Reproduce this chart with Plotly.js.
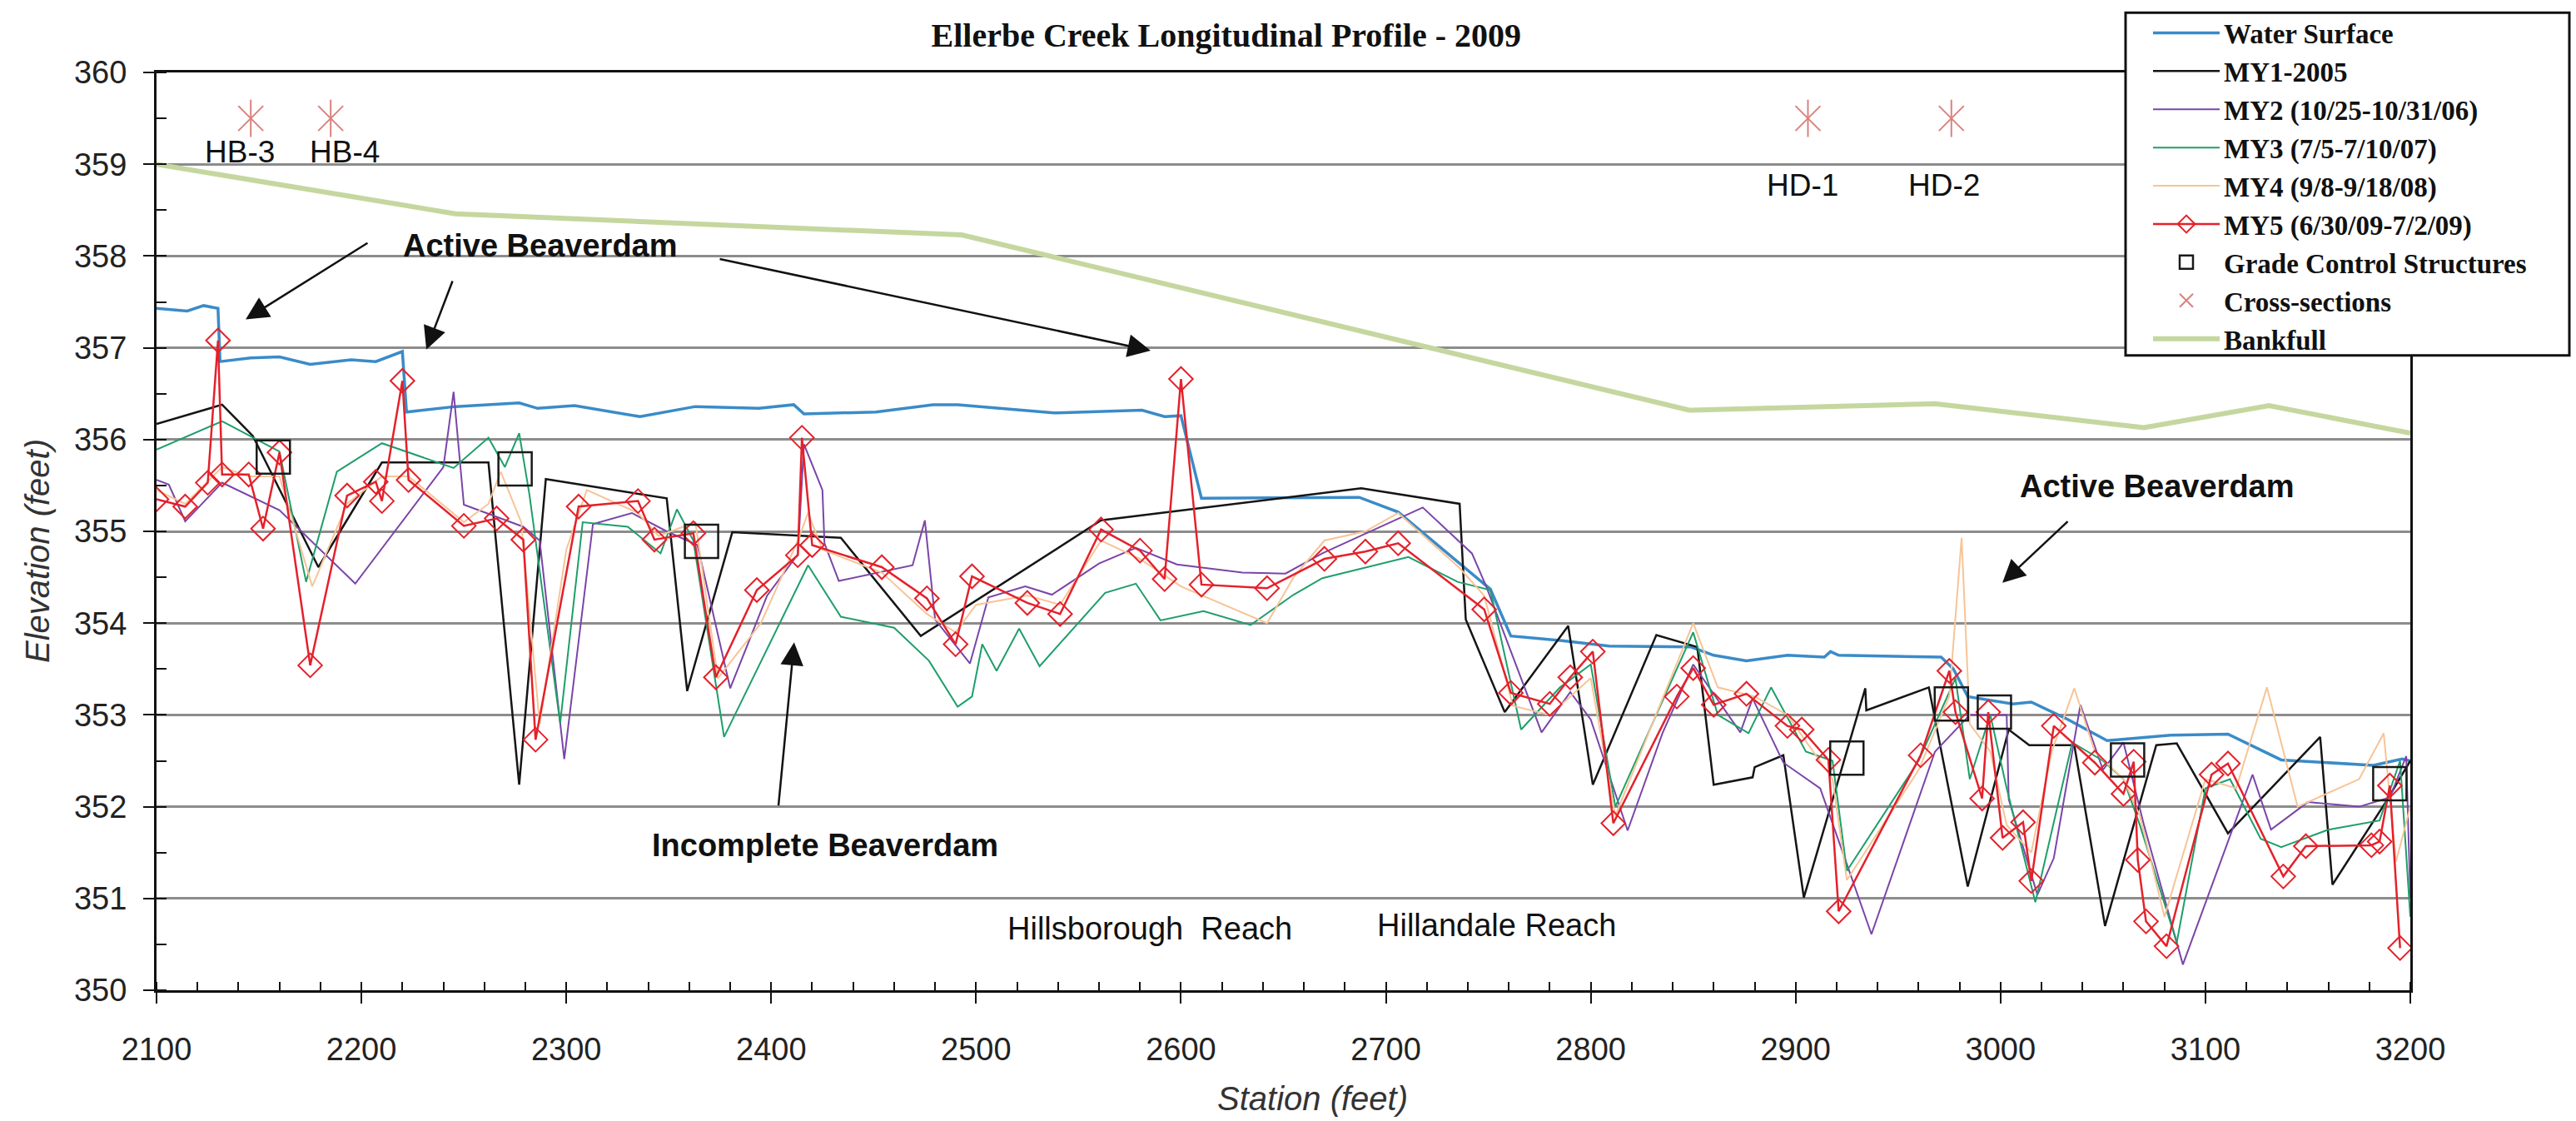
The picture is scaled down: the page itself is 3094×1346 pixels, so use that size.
<!DOCTYPE html>
<html>
<head>
<meta charset="utf-8">
<script src="https://cdn.plot.ly/plotly-3.0.1.min.js"></script>
<style>html,body{margin:0;padding:0;background:#fff;}#chart{width:3094px;height:1346px;}</style>
</head>
<body>
<div id="chart"></div>
<script>
// ---------- DATA ----------
const wsX = [2100,2115,2123,2130,2131,2146,2160,2175,2195,2207,2220,2222,2246,2277,2286,2304,2336,2363,2394,2411,2416,2451,2479,2491,2538,2581,2592,2600,2610,2687,2706,2751,2761,2786,2809,2849,2860,2876,2896,2914,2917,2921,2971,2977,2984,3006,3015,3032,3052,3066,3083,3111,3137,3182,3196,3200];
const wsY = [357.43,357.40,357.46,357.43,356.85,356.89,356.90,356.82,356.87,356.85,356.96,356.30,356.36,356.40,356.34,356.37,356.25,356.36,356.34,356.38,356.28,356.30,356.38,356.38,356.29,356.32,356.25,356.26,355.36,355.37,355.21,354.37,353.86,353.81,353.75,353.74,353.65,353.59,353.65,353.63,353.69,353.65,353.63,353.50,353.20,353.12,353.14,352.96,352.72,352.75,352.78,352.79,352.51,352.45,352.52,352.50];

const my1X = [2100,2132,2147,2179,2210,2262,2277,2290,2349,2359,2381,2434,2473,2561,2688,2736,2739,2758,2789,2801,2832,2852,2860,2879,2880,2894,2904,2934,2934.5,2965,2984,3004,3014,3036,3051,3076,3086,3111,3156,3162,3188,3200];
const my1Y = [356.17,356.38,356.04,354.61,355.75,355.75,352.24,355.57,355.36,353.26,354.99,354.93,353.86,355.12,355.47,355.30,354.04,353.03,353.97,352.24,353.87,353.74,352.24,352.32,352.43,352.56,351.01,353.29,353.05,353.30,351.13,352.84,352.67,352.67,350.70,352.67,352.69,351.71,352.76,351.15,352.05,352.50];

const my2X = [2100,2106,2114,2132,2160,2197,2240,2245,2250,2279,2287,2299,2313,2332,2349,2364,2380,2398,2413,2416,2425,2426,2433,2469,2475,2480,2497,2506,2524,2537,2560,2578,2598,2630,2651,2669,2718,2742,2749,2776,2790,2800,2818,2835,2850,2873,2879,2894,2912,2937,2968,2985,3003,3004,3018,3026,3039,3050,3060,3070,3089,3123,3132,3150,3175,3190,3198,3200];
const my2Y = [355.56,355.51,355.11,355.53,355.23,354.43,355.70,356.52,355.29,355.05,354.90,352.52,355.08,355.20,355.00,354.85,353.29,354.30,354.75,355.95,355.45,354.87,354.46,354.63,355.12,354.04,353.56,354.28,354.40,354.31,354.65,354.82,354.64,354.55,354.54,354.76,355.26,354.76,354.40,352.81,353.25,352.95,351.74,352.80,353.55,352.81,353.18,352.48,352.20,350.61,352.60,353.00,353.00,352.08,351.04,351.44,353.11,352.40,352.70,351.80,350.28,352.35,351.75,352.05,352.00,352.10,352.55,351.00];

const my3X = [2100,2132,2160,2173,2188,2210,2245,2262,2270,2277,2282,2297,2308,2330,2346,2354,2362,2377,2418,2434,2460,2477,2491,2498,2503,2510,2521,2531,2563,2578,2590,2611,2634,2655,2669,2711,2735,2751,2766,2785,2800,2812,2830,2850,2862,2877,2888,2905,2918,2925,2960,2978,2985,2995,3003,3017,3035,3050,3060,3068,3086,3100,3112,3127,3137,3160,3185,3195,3200];
const my3Y = [355.89,356.20,355.87,354.45,355.65,355.96,355.69,356.02,355.70,356.07,355.40,352.91,355.10,355.05,354.76,355.24,354.90,352.76,354.63,354.07,353.95,353.59,353.09,353.20,353.77,353.48,353.94,353.53,354.33,354.43,354.03,354.13,353.98,354.31,354.49,354.72,354.45,354.36,352.84,353.30,353.55,352.00,352.90,353.90,353.00,352.80,353.30,352.60,352.50,351.30,352.50,353.40,352.30,353.00,352.20,350.96,352.70,352.50,352.30,351.80,350.52,352.20,352.30,351.65,351.56,351.75,351.85,352.50,350.80];

const my4X = [2100,2114,2132,2145,2160,2176,2193,2210,2223,2250,2262,2268,2278,2287,2300,2310,2335,2345,2363,2374,2395,2413,2418,2425,2454,2476,2490,2500,2525,2541,2561,2580,2600,2642,2655,2670,2690,2706,2736,2748,2762,2780,2800,2812,2830,2850,2862,2880,2896,2918,2925,2960,2975,2981,2985,2995,3003,3015,3025,3036,3046,3060,3068,3080,3100,3115,3130,3145,3175,3187,3193,3200];
const my4Y = [355.45,355.30,355.70,355.60,355.60,354.40,355.30,355.60,355.60,355.10,355.30,355.65,355.10,352.90,354.80,355.45,355.20,354.95,355.10,353.40,354.00,354.90,355.20,354.80,354.55,354.10,353.90,354.20,354.30,354.20,354.90,354.70,354.40,354.00,354.50,354.90,355.00,355.20,354.60,354.30,353.10,353.00,353.40,351.90,352.90,354.00,353.30,353.20,353.00,352.30,351.20,352.40,353.20,354.93,352.90,352.60,351.80,351.50,352.60,353.29,352.60,352.30,351.90,350.80,352.30,352.20,353.30,352.00,352.30,352.80,351.40,352.00];

const my5X = [2100,2114,2125,2130,2132,2145,2152,2160,2175,2193,2207,2210,2220,2223,2250,2266,2279,2285,2306,2335,2343,2362,2373,2393,2413,2415,2420,2454,2476,2490,2498,2525,2541,2561,2580,2592,2600,2610,2642,2670,2690,2706,2748,2761,2780,2790,2801,2811,2842,2850,2860,2876,2896,2903,2916,2921,2961,2975,2978,2991,2994,3001,3011,3015,3026,3046,3060,3065,3067,3071,3081,3103,3111,3138,3149,3181,3185,3190,3195];
const my5Y = [355.35,355.27,355.53,357.08,355.62,355.62,355.03,355.86,353.54,355.39,355.54,355.33,356.64,355.56,355.06,355.14,354.91,352.73,355.27,355.33,354.91,354.98,353.41,354.36,354.74,356.02,354.85,354.61,354.27,353.77,354.51,354.22,354.10,355.02,354.79,354.48,356.66,354.42,354.38,354.70,354.78,354.87,354.15,353.24,353.12,353.41,353.69,351.82,353.20,353.51,353.11,353.23,352.88,352.84,352.51,350.86,352.56,353.48,353.03,352.09,353.03,351.66,351.83,351.19,352.88,352.48,352.14,352.49,351.42,350.75,350.48,352.35,352.47,351.24,351.57,351.58,351.62,352.23,350.46];

const gcX = [2157,2275,2366,2925,2976,2997,3062,3190];
const gcY = [355.81,355.68,354.89,352.53,353.12,353.03,352.51,352.25];

const xsX = [2146,2185,2906,2976];
const xsY = [359.5,359.5,359.5,359.5];
const xsLabels = ['HB-3','HB-4','HD-1','HD-2'];
const xsLabelX = [2140.6,2191.8,2903.4,2972.4];
const xsLabelY = [359.13,359.13,358.77,358.77];

const bfX = [2100,2246,2471,2493,2848,2968,3070,3131,3200];
const bfY = [359.00,358.46,358.25,358.23,356.32,356.39,356.13,356.37,356.07];

const noteText = ['Active Beaverdam','Active Beaverdam','Incomplete Beaverdam','Hillsborough&nbsp;&nbsp;Reach','Hillandale Reach'];
const noteX = [2287.3,3076.5,2426.3,2584.7,2754.2];
const noteY = [358.11,355.49,351.58,350.67,350.71];

// arrows: head (x,y), tail (ax,ay)
const arrowHeadX = [2143.5,2231.7,2585.2,3000.9,2411.2];
const arrowHeadY = [357.31,356.98,356.97,354.44,353.79];
const arrowTailX = [2203.6,2244.7,2374.3,3033.4,2403.5];
const arrowTailY = [358.15,357.74,357.97,355.12,352.00];

// ---------- TRACES ----------
const SERIF = '"Liberation Serif", "Times New Roman", serif';
const SANS = '"Liberation Sans", Arial, sans-serif';

const traces = [
  {x: wsX, y: wsY, name: 'Water Surface', mode: 'lines', line: {color: '#3a8bc8', width: 3.5}},
  {x: my1X, y: my1Y, name: 'MY1-2005', mode: 'lines', line: {color: '#151515', width: 2.5}},
  {x: my2X, y: my2Y, name: 'MY2 (10/25-10/31/06)', mode: 'lines', line: {color: '#7a45a8', width: 2}},
  {x: my3X, y: my3Y, name: 'MY3 (7/5-7/10/07)', mode: 'lines', line: {color: '#1f9e6a', width: 2}},
  {x: my4X, y: my4Y, name: 'MY4 (9/8-9/18/08)', mode: 'lines', line: {color: '#f7c497', width: 2}},
  {x: my5X, y: my5Y, name: 'MY5 (6/30/09-7/2/09)', mode: 'lines+markers',
   line: {color: '#e4212b', width: 2.5},
   marker: {symbol: 'diamond-open', size: 22, color: '#e4212b', line: {width: 2, color: '#e4212b'}}},
  {x: gcX, y: gcY, name: 'Grade Control Structures', mode: 'markers',
   marker: {symbol: 'square-open', size: 40, color: '#1a1a1a', line: {width: 2.5, color: '#1a1a1a'}}},
  {x: xsX, y: xsY, name: 'Cross-sections', mode: 'markers',
   marker: {symbol: 'x-thin-open', size: 30, color: '#d9827c', line: {width: 2, color: '#d9827c'}}},
  {x: xsX, y: xsY, name: 'Cross-sections', mode: 'markers', showlegend: false,
   marker: {symbol: 'line-ns-open', size: 32, color: '#d9827c', line: {width: 2, color: '#d9827c'}}},
  {x: bfX, y: bfY, name: 'Bankfull', mode: 'lines', line: {color: '#c5d79f', width: 6}}
];

// ---------- ANNOTATIONS ----------
const annotations = [];
xsLabels.forEach((t, i) => annotations.push({
  x: xsLabelX[i], y: xsLabelY[i], xref: 'x', yref: 'y', text: t, showarrow: false,
  font: {family: SANS, size: 37, color: '#111'}
}));
noteText.forEach((t, i) => annotations.push({
  x: noteX[i], y: noteY[i], xref: 'x', yref: 'y', text: t, showarrow: false,
  font: {family: SANS, size: 38, color: '#111', weight: i < 3 ? 'bold' : 'normal'}
}));
arrowHeadX.forEach((hx, i) => annotations.push({
  x: hx, y: arrowHeadY[i], ax: arrowTailX[i], ay: arrowTailY[i], xref: 'x', yref: 'y', axref: 'x', ayref: 'y',
  text: '', showarrow: true, arrowhead: 2, arrowsize: 2.2, arrowwidth: 2.5, arrowcolor: '#111', standoff: 0
}));
// axis titles
annotations.push({x: 0.5131, y: -0.1184, xref: 'paper', yref: 'paper', xanchor: 'center', yanchor: 'middle',
  text: 'Station (feet)', showarrow: false, font: {family: SANS, size: 40, color: '#333', style: 'italic'}});
annotations.push({x: -0.0528, y: 0.4783, xref: 'paper', yref: 'paper', xanchor: 'center', yanchor: 'middle',
  textangle: -90, text: 'Elevation (feet)', showarrow: false, font: {family: SANS, size: 40, color: '#333', style: 'italic'}});

const layout = {
  width: 3094, height: 1346,
  paper_bgcolor: '#ffffff', plot_bgcolor: '#ffffff',
  margin: {l: 188, r: 199, t: 83, b: 157},
  title: {text: 'Ellerbe Creek Longitudinal Profile - 2009', x: 0.476, xref: 'container', xanchor: 'center',
          y: 0.969, yref: 'container', yanchor: 'middle',
          font: {family: SERIF, size: 40, color: '#111', weight: 'bold'}},
  showlegend: true,
  legend: {x: 0.8840, y: 1.0685, xanchor: 'left', yanchor: 'top', bgcolor: 'rgba(0,0,0,0)',
           borderwidth: 0, itemwidth: 80,
           font: {family: SERIF, size: 33, color: '#111', weight: 'bold'}},
  shapes: [{type: 'rect', xref: 'paper', yref: 'paper', x0: 0.87366, x1: 1.07056, y0: 0.69168, y1: 1.06510,
            line: {color: '#111', width: 3}, fillcolor: '#ffffff', layer: 'above'}],
  xaxis: {range: [2100, 3200], dtick: 100, tick0: 2100, showgrid: false, zeroline: false,
          showline: true, linecolor: '#111', linewidth: 3, mirror: true,
          ticks: 'outside', ticklen: 13, tickwidth: 2, tickcolor: '#111', ticklabelstandoff: 22,
          tickfont: {family: SANS, size: 38, color: '#222'},
          minor: {dtick: 20, ticks: 'inside', ticklen: 10, tickwidth: 2, tickcolor: '#111', showgrid: false}},
  yaxis: {range: [350, 360], dtick: 1, tick0: 350, showgrid: true, gridcolor: '#8c8c8c', gridwidth: 3, zeroline: false,
          showline: true, linecolor: '#111', linewidth: 3, mirror: true,
          ticks: 'outside', ticklen: 13, tickwidth: 2, tickcolor: '#111', ticklabelstandoff: 12,
          tickfont: {family: SANS, size: 38, color: '#222'},
          minor: {dtick: 0.5, ticks: 'inside', ticklen: 12, tickwidth: 2, tickcolor: '#111', showgrid: false}},
  annotations: annotations
};

Plotly.newPlot('chart', traces, layout, {displayModeBar: false, staticPlot: true});
</script>
</body>
</html>
